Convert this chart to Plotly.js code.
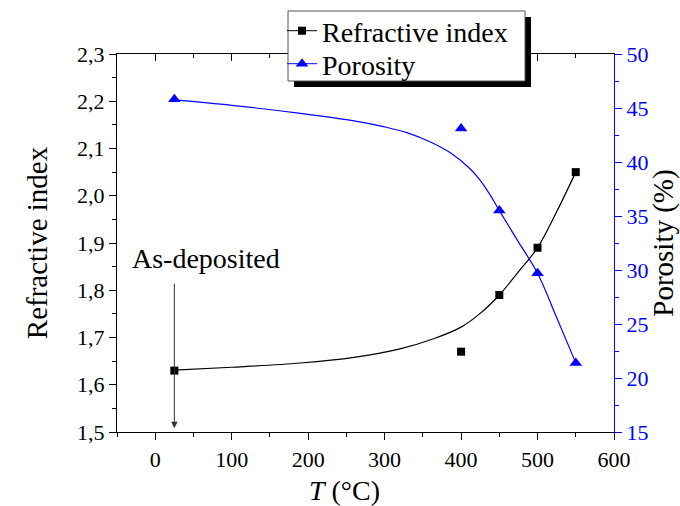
<!DOCTYPE html>
<html>
<head>
<meta charset="utf-8">
<script src="https://cdn.plot.ly/plotly-3.0.1.min.js"></script>
<style>
html,body{margin:0;padding:0;background:#fff;}
#chart{width:680px;height:506px;}
</style>
</head>
<body>
<div id="chart"></div>
<script>
// Measured data points
const temperature = [25, 400, 450, 500, 550];
const refractiveIndex = [1.63, 1.67, 1.79, 1.89, 2.05];
const porosity = [45.8, 43.1, 35.5, 29.7, 21.4];

// Fitted curves
const fitIndexT = [25, 100, 190, 260, 320, 365, 400, 425, 450, 475, 500, 525, 550];
const fitIndex = [1.631, 1.637, 1.646, 1.658, 1.676, 1.698, 1.722, 1.751, 1.790, 1.839, 1.890, 1.966, 2.050];
const fitPorT = [25, 100, 190, 260, 300, 330, 360, 386, 412, 425, 438, 450, 475, 500, 525, 550];
const fitPor = [45.75, 45.25, 44.5, 43.8, 43.25, 42.7, 41.85, 40.85, 39.35, 38.3, 36.95, 35.5, 32.6, 29.7, 25.6, 21.4];

const xTickVals = [0, 100, 200, 300, 400, 500, 600];
const seriesNames = ['Refractive index', 'Porosity'];

const FONT = 'Liberation Serif';
const BLUE = '#0000ff';

const traces = [
  {x: fitIndexT, y: fitIndex, mode: 'lines', line: {color: '#000', width: 1.2, shape: 'spline'},
   xaxis: 'x', yaxis: 'y', showlegend: false, hoverinfo: 'skip'},
  {x: fitPorT, y: fitPor, mode: 'lines', line: {color: BLUE, width: 1.2, shape: 'spline'},
   xaxis: 'x2', yaxis: 'y2', showlegend: false, hoverinfo: 'skip'},
  {x: temperature, y: refractiveIndex, mode: 'markers', marker: {symbol: 'square', size: 8, color: '#000'},
   xaxis: 'x', yaxis: 'y', showlegend: false},
  {x: temperature, y: porosity, mode: 'markers', marker: {symbol: 'triangle-up', size: 11, color: BLUE},
   xaxis: 'x2', yaxis: 'y2', showlegend: false},
  {x: [null], y: [null], name: seriesNames[0], mode: 'lines+markers', legend: 'legend',
   line: {color: '#000', width: 1}, marker: {symbol: 'square', size: 8, color: '#000'}, xaxis: 'x', yaxis: 'y'},
  {x: [null], y: [null], name: seriesNames[1], mode: 'lines+markers', legend: 'legend2',
   line: {color: BLUE, width: 1}, marker: {symbol: 'triangle-up', size: 11, color: BLUE}, xaxis: 'x2', yaxis: 'y2'}
];

const L = 117, R = 66, T = 54, B = 74, W = 680, H = 506;
const pw = W - L - R, ph = H - T - B;
const px2x = p => (p - L) / pw;
const py2y = p => (H - B - p) / ph;

const legendFont = {family: FONT, size: 28, color: '#000'};
const nb = '\u00a0';
const layout = {
  width: W, height: H,
  margin: {l: L, r: R, t: T, b: B, pad: 0, autoexpand: false},
  paper_bgcolor: '#fff', plot_bgcolor: '#fff',
  separators: ', ',
  font: {family: FONT, color: '#000', size: 22},
  showlegend: true,
  legend: {
    x: px2x(282), y: py2y(31), xanchor: 'left', yanchor: 'middle',
    bgcolor: 'rgba(0,0,0,0)', borderwidth: 0, font: legendFont, itemwidth: 30
  },
  legend2: {
    x: px2x(282), y: py2y(64), xanchor: 'left', yanchor: 'middle',
    bgcolor: 'rgba(0,0,0,0)', borderwidth: 0, font: legendFont, itemwidth: 30
  },
  xaxis: {
    range: [-50, 600], tickvals: xTickVals, ticks: 'outside', ticklen: 7, tickwidth: 1, tickcolor: '#000',
    minor: {dtick: 50, tick0: 0, ticks: 'outside', ticklen: 4, tickcolor: '#000', showgrid: false},
    showline: true, linecolor: '#000', linewidth: 1.2, showgrid: false, zeroline: false,
    tickfont: {family: FONT, size: 22, color: '#000'},
    title: {text: '<i>T</i> (°C)' + nb.repeat(6) + '\u200b', font: {family: FONT, size: 28, color: '#000'}, standoff: 10},
    anchor: 'y', side: 'bottom'
  },
  xaxis2: {
    range: [-50, 600], tickvals: xTickVals, ticks: 'inside', ticklen: 7, tickwidth: 1, tickcolor: '#000',
    minor: {dtick: 50, tick0: 0, ticks: 'inside', ticklen: 4, tickcolor: '#000', showgrid: false},
    showline: true, linecolor: '#000', linewidth: 1.2, showgrid: false, zeroline: false,
    showticklabels: false, overlaying: 'x', side: 'top', anchor: 'y2'
  },
  yaxis: {
    range: [1.5, 2.3], tick0: 1.5, dtick: 0.1, tickformat: '.1f',
    ticks: 'outside', ticklen: 7, tickwidth: 1, tickcolor: '#000',
    minor: {dtick: 0.05, tick0: 1.5, ticks: 'outside', ticklen: 4, tickcolor: '#000', showgrid: false},
    showline: true, linecolor: '#000', linewidth: 1.2, showgrid: false, zeroline: false,
    tickfont: {family: FONT, size: 22, color: '#000'},
    title: {text: 'Refractive index', font: {family: FONT, size: 29, color: '#000'}, standoff: 20},
    anchor: 'x', side: 'left'
  },
  yaxis2: {
    range: [15, 50], tick0: 15, dtick: 5,
    ticks: 'outside', ticklen: 7, tickwidth: 1, tickcolor: BLUE,
    minor: {dtick: 2.5, tick0: 15, ticks: 'outside', ticklen: 4, tickcolor: BLUE, showgrid: false},
    showline: true, linecolor: BLUE, linewidth: 1.2, showgrid: false, zeroline: false,
    tickfont: {family: FONT, size: 22, color: BLUE},
    title: {text: 'Porosity (%)', font: {family: FONT, size: 29, color: '#000'}, standoff: 2},
    overlaying: 'y', side: 'right', anchor: 'x2'
  },
  shapes: [
    {type: 'rect', xref: 'paper', yref: 'paper', x0: px2x(294), x1: px2x(531), y0: py2y(87), y1: py2y(17),
     fillcolor: '#000', line: {width: 0}, layer: 'above'},
    {type: 'rect', xref: 'paper', yref: 'paper', x0: px2x(288), x1: px2x(525), y0: py2y(81), y1: py2y(11),
     fillcolor: '#fff', line: {width: 1, color: '#555'}, layer: 'above'}
  ],
  annotations: [
    {xref: 'x', yref: 'y', x: 66, y: 1.868, text: 'As-deposited', showarrow: false,
     xanchor: 'center', yanchor: 'middle', font: {family: FONT, size: 28, color: '#000'}},
    {xref: 'x', yref: 'y', x: 25, y: 1.508, text: '', showarrow: true, ax: 0, ay: -146,
     arrowhead: 2, arrowsize: 1.3, arrowwidth: 1, arrowcolor: '#333'}
  ]
};

Plotly.newPlot('chart', traces, layout, {displayModeBar: false, staticPlot: true});
</script>
</body>
</html>
